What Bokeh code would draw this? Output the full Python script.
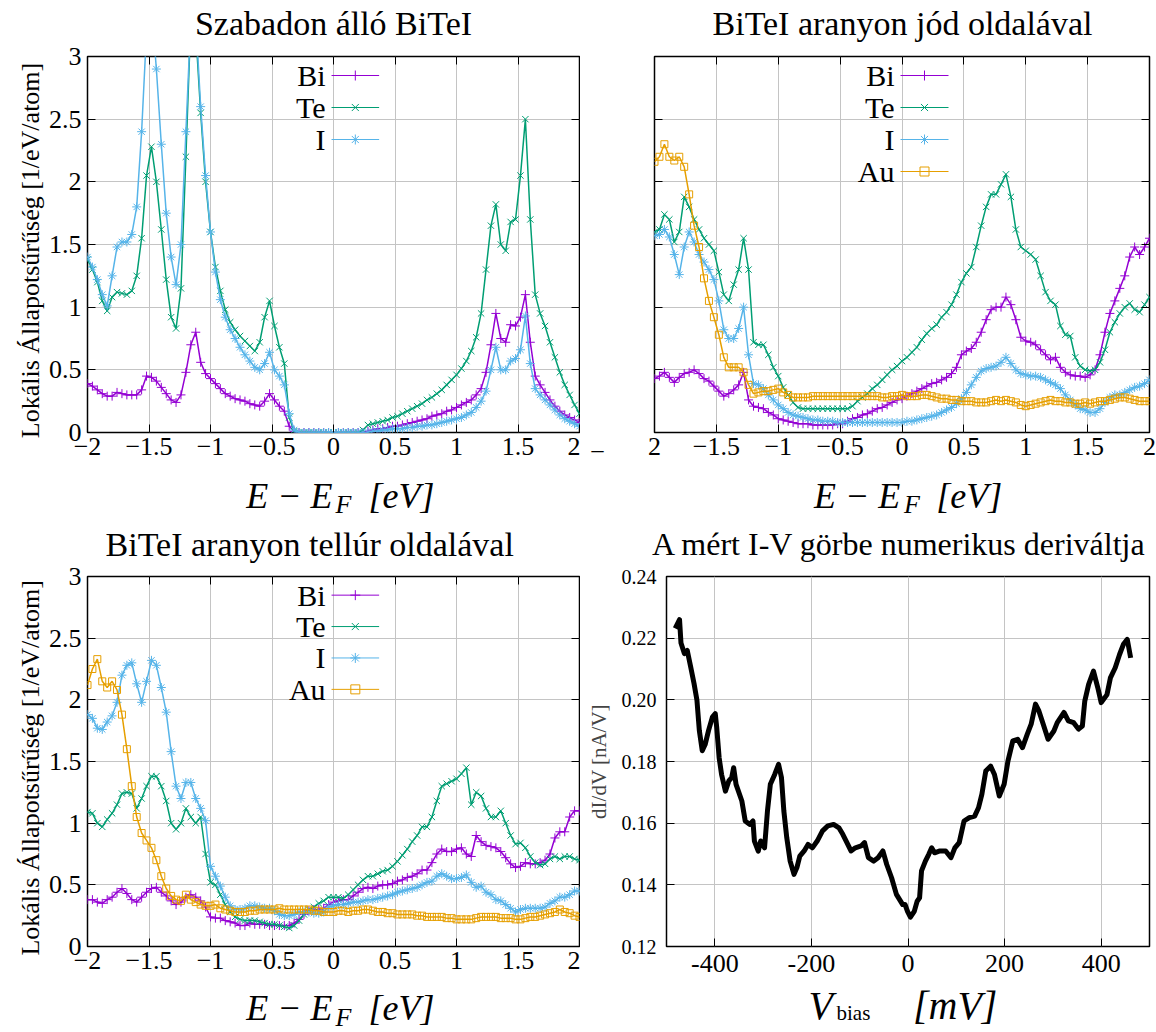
import numpy as np
from math import pi
from bokeh.plotting import figure
from bokeh.models import Range1d, FixedTicker, Label, LinearAxis
from bokeh.layouts import column, row
from bokeh.embed import file_html
from bokeh.resources import INLINE

FONT = "Liberation Serif"
NB = "\u00a0"

# ---------------- data ----------------
E = np.round(np.linspace(-2.0, 2.0, 101), 2)

# Panel 1: Szabadon allo BiTeI
P1_BI = [0.39,0.37,0.34,0.31,0.29,0.29,0.32,0.31,0.30,0.30,
         0.30,0.34,0.45,0.44,0.41,0.36,0.31,0.26,0.24,0.30,
         0.48,0.70,0.80,0.56,0.47,0.43,0.39,0.35,0.31,0.29,
         0.27,0.26,0.25,0.23,0.22,0.21,0.25,0.31,0.26,0.21,
         0.17,0.05,0.01,0.00,0.00,0.00,0.00,0.00,0.00,0.00,
         0.00,0.00,0.00,0.00,0.00,0.00,0.00,0.01,0.02,0.03,
         0.03,0.04,0.05,0.05,0.06,0.07,0.08,0.09,0.10,0.11,
         0.13,0.14,0.15,0.17,0.18,0.20,0.22,0.24,0.26,0.30,
         0.35,0.48,0.70,0.95,0.75,0.72,0.86,0.85,0.92,1.10,
         0.72,0.45,0.38,0.32,0.26,0.21,0.17,0.14,0.12,0.10,
         0.08]
P1_TE = [1.38,1.30,1.20,1.05,0.97,1.08,1.12,1.11,1.10,1.13,
         1.25,1.55,2.05,2.28,2.00,1.62,1.22,0.92,0.83,1.15,
         2.20,3.30,3.20,2.55,2.00,1.60,1.32,1.13,0.98,0.88,
         0.82,0.77,0.73,0.69,0.65,0.72,0.92,1.05,0.85,0.68,
         0.55,0.12,0.01,0.00,0.00,0.00,0.00,0.00,0.00,0.00,
         0.00,0.00,0.00,0.00,0.00,0.00,0.02,0.06,0.07,0.08,
         0.09,0.10,0.12,0.13,0.15,0.17,0.19,0.21,0.23,0.26,
         0.28,0.31,0.34,0.38,0.42,0.46,0.51,0.57,0.65,0.76,
         0.95,1.30,1.65,1.82,1.50,1.45,1.68,1.70,2.05,2.50,
         1.70,1.10,0.95,0.85,0.72,0.60,0.48,0.38,0.30,0.22,
         0.15]
P1_I = [1.40,1.32,1.22,1.10,1.01,1.25,1.48,1.52,1.52,1.58,
        1.80,2.40,3.20,3.40,2.90,2.30,1.75,1.40,1.18,1.50,
        2.40,3.30,3.30,2.60,2.05,1.60,1.28,1.06,0.92,0.82,
        0.75,0.68,0.62,0.57,0.52,0.50,0.55,0.64,0.50,0.45,
        0.38,0.15,0.02,0.00,0.00,0.00,0.00,0.00,0.00,0.00,
        0.00,0.00,0.00,0.00,0.00,0.00,0.00,0.00,0.01,0.01,
        0.02,0.02,0.03,0.03,0.03,0.04,0.04,0.05,0.05,0.06,
        0.06,0.07,0.08,0.09,0.10,0.11,0.12,0.14,0.16,0.20,
        0.25,0.33,0.50,0.68,0.50,0.50,0.57,0.59,0.66,0.93,
        0.55,0.35,0.30,0.26,0.22,0.18,0.14,0.11,0.09,0.07,
        0.05]

# Panel 2: BiTeI aranyon jod oldalaval
P2_BI = [0.43,0.45,0.48,0.44,0.40,0.44,0.47,0.48,0.50,0.47,
         0.43,0.41,0.37,0.33,0.29,0.31,0.34,0.38,0.48,0.26,
         0.21,0.20,0.19,0.16,0.14,0.11,0.10,0.09,0.08,0.07,
         0.07,0.07,0.06,0.06,0.06,0.06,0.06,0.07,0.07,0.09,
         0.11,0.12,0.14,0.15,0.17,0.19,0.20,0.22,0.24,0.26,
         0.27,0.29,0.31,0.33,0.35,0.37,0.39,0.40,0.42,0.44,
         0.47,0.52,0.62,0.65,0.67,0.72,0.80,0.90,0.98,1.00,
         1.00,1.08,1.02,0.90,0.76,0.73,0.72,0.70,0.66,0.62,
         0.58,0.60,0.52,0.48,0.46,0.45,0.45,0.44,0.46,0.50,
         0.62,0.80,0.95,1.05,1.15,1.25,1.40,1.48,1.42,1.48,
         1.55]
P2_TE = [1.60,1.62,1.74,1.70,1.52,1.60,1.88,1.80,1.70,1.62,
         1.55,1.50,1.45,1.28,1.10,1.05,1.18,1.30,1.55,1.30,
         0.72,0.70,0.70,0.62,0.52,0.45,0.36,0.30,0.24,0.20,
         0.19,0.19,0.19,0.19,0.19,0.19,0.19,0.19,0.19,0.19,
         0.21,0.25,0.28,0.31,0.35,0.38,0.42,0.46,0.50,0.53,
         0.57,0.60,0.64,0.68,0.74,0.79,0.83,0.86,0.92,0.96,
         1.02,1.10,1.20,1.27,1.32,1.48,1.65,1.80,1.90,1.90,
         1.98,2.06,1.88,1.62,1.48,1.45,1.42,1.38,1.25,1.12,
         1.05,1.02,0.85,0.78,0.77,0.60,0.53,0.50,0.49,0.50,
         0.56,0.66,0.80,0.88,0.95,1.00,1.03,0.98,0.96,1.02,
         1.08]
P2_I = [1.57,1.58,1.62,1.56,1.42,1.26,1.48,1.60,1.52,1.42,
        1.36,1.30,1.22,1.05,0.82,0.75,0.75,0.83,1.00,0.62,
        0.39,0.38,0.35,0.30,0.26,0.22,0.19,0.16,0.14,0.13,
        0.12,0.11,0.10,0.10,0.09,0.09,0.09,0.08,0.08,0.08,
        0.08,0.08,0.08,0.08,0.08,0.08,0.08,0.08,0.08,0.08,
        0.08,0.09,0.09,0.10,0.11,0.12,0.13,0.14,0.16,0.18,
        0.20,0.23,0.27,0.32,0.38,0.44,0.49,0.51,0.52,0.53,
        0.56,0.60,0.55,0.50,0.47,0.46,0.45,0.45,0.44,0.42,
        0.40,0.38,0.35,0.30,0.26,0.22,0.19,0.18,0.16,0.16,
        0.19,0.24,0.28,0.30,0.30,0.32,0.34,0.36,0.37,0.39,
        0.42]
P2_AU = [2.16,2.20,2.30,2.20,2.17,2.20,2.12,1.90,1.65,1.48,
         1.23,1.05,0.92,0.78,0.60,0.52,0.52,0.52,0.48,0.38,
         0.31,0.32,0.33,0.33,0.34,0.35,0.32,0.30,0.28,0.28,
         0.28,0.28,0.29,0.29,0.29,0.29,0.29,0.29,0.29,0.29,
         0.29,0.29,0.29,0.29,0.29,0.29,0.28,0.28,0.29,0.29,
         0.30,0.29,0.29,0.29,0.30,0.30,0.29,0.28,0.27,0.27,
         0.26,0.26,0.25,0.25,0.25,0.24,0.24,0.24,0.25,0.26,
         0.25,0.26,0.25,0.24,0.22,0.21,0.22,0.23,0.24,0.25,
         0.26,0.25,0.25,0.24,0.24,0.23,0.23,0.24,0.23,0.24,
         0.25,0.25,0.26,0.27,0.28,0.28,0.27,0.26,0.25,0.25,
         0.25]

# Panel 3: BiTeI aranyon tellur oldalaval
P3_BI = [0.38,0.38,0.36,0.35,0.38,0.40,0.44,0.47,0.43,0.38,
         0.36,0.40,0.44,0.47,0.48,0.44,0.41,0.37,0.34,0.36,
         0.40,0.42,0.40,0.37,0.32,0.24,0.23,0.23,0.21,0.20,
         0.19,0.17,0.17,0.19,0.18,0.18,0.18,0.17,0.17,0.17,
         0.17,0.17,0.19,0.22,0.26,0.29,0.30,0.30,0.31,0.34,
         0.36,0.37,0.38,0.38,0.41,0.44,0.47,0.48,0.47,0.49,
         0.50,0.50,0.51,0.53,0.54,0.56,0.57,0.59,0.62,0.62,
         0.68,0.75,0.79,0.77,0.77,0.79,0.80,0.75,0.73,0.90,
         0.85,0.82,0.81,0.80,0.77,0.72,0.67,0.64,0.65,0.68,
         0.67,0.67,0.68,0.70,0.75,0.88,0.93,0.93,1.05,1.10,
         1.10]
P3_TE = [1.09,1.08,1.00,0.97,1.03,1.08,1.15,1.24,1.25,1.24,
         1.12,1.20,1.30,1.38,1.38,1.30,1.18,1.00,0.95,1.00,
         1.12,1.05,1.00,1.05,0.75,0.52,0.50,0.42,0.34,0.28,
         0.24,0.22,0.21,0.21,0.21,0.20,0.19,0.18,0.18,0.17,
         0.16,0.15,0.17,0.21,0.26,0.30,0.32,0.35,0.37,0.40,
         0.40,0.40,0.39,0.42,0.46,0.50,0.54,0.57,0.57,0.59,
         0.61,0.62,0.65,0.69,0.74,0.79,0.85,0.90,0.97,0.97,
         1.05,1.18,1.30,1.32,1.34,1.36,1.40,1.45,1.15,1.25,
         1.22,1.12,1.05,1.05,1.10,1.00,0.90,0.83,0.84,0.80,
         0.73,0.68,0.66,0.67,0.71,0.73,0.71,0.73,0.73,0.71,
         0.70]
P3_I = [1.88,1.85,1.77,1.76,1.82,1.87,1.98,2.20,2.28,2.30,
        2.13,1.98,2.15,2.32,2.28,2.10,1.90,1.58,1.30,1.20,
        1.33,1.33,1.20,1.12,1.02,0.65,0.57,0.49,0.40,0.33,
        0.30,0.30,0.31,0.33,0.33,0.32,0.31,0.31,0.29,0.26,
        0.25,0.25,0.26,0.28,0.28,0.28,0.27,0.27,0.28,0.32,
        0.33,0.34,0.34,0.35,0.36,0.36,0.37,0.38,0.38,0.39,
        0.40,0.41,0.42,0.44,0.45,0.46,0.47,0.48,0.50,0.52,
        0.53,0.57,0.59,0.57,0.55,0.55,0.56,0.58,0.52,0.48,
        0.49,0.44,0.42,0.38,0.37,0.34,0.31,0.28,0.30,0.31,
        0.31,0.31,0.31,0.32,0.35,0.37,0.40,0.40,0.42,0.45,
        0.45]
P3_AU = [2.12,2.25,2.33,2.15,2.10,2.15,2.08,1.88,1.60,1.30,
         1.05,0.92,0.86,0.80,0.70,0.57,0.47,0.41,0.38,0.37,
         0.42,0.38,0.36,0.34,0.33,0.33,0.34,0.31,0.30,0.29,
         0.28,0.28,0.28,0.29,0.29,0.30,0.30,0.30,0.30,0.31,
         0.30,0.30,0.30,0.30,0.30,0.30,0.29,0.29,0.28,0.28,
         0.28,0.29,0.29,0.28,0.29,0.29,0.30,0.30,0.29,0.28,
         0.28,0.27,0.27,0.26,0.26,0.26,0.26,0.25,0.25,0.24,
         0.24,0.24,0.24,0.23,0.23,0.22,0.22,0.22,0.22,0.23,
         0.24,0.24,0.24,0.24,0.23,0.23,0.23,0.22,0.22,0.23,
         0.24,0.24,0.25,0.26,0.27,0.28,0.30,0.28,0.27,0.25,
         0.24]

# Panel 4: measured dI/dV
V_MV = [-482,-473,-470,-463,-457,-450,-443,-437,-432,-426,-420,-413,-405,-399,-396,
        -391,-386,-378,-371,-365,-361,-356,-344,-337,-328,-321,-318,-310,-305,-297,
        -291,-285,-276,-268,-262,-257,-251,-244,-236,-230,-224,-215,-207,-198,-188,
        -177,-166,-154,-143,-135,-128,-118,-109,-97,-90,-82,-71,-62,-52,-44,
        -34,-24,-11,-6,-1,5,13,19,24,28,36,43,49,55,66,
        78,89,97,106,116,127,138,146,153,161,171,179,189,199,207,
        217,227,237,247,255,264,271,280,290,302,309,323,332,343,353,
        361,366,374,384,393,400,412,419,429,438,446,454,461]
DIDV = [0.2232,0.2260,0.2184,0.2150,0.2160,0.2107,0.2053,0.1999,0.1900,0.1835,0.1855,0.1900,0.1944,0.1955,0.1910,
        0.1812,0.1758,0.1704,0.1737,0.1748,0.1780,0.1726,0.1672,0.1607,0.1596,0.1607,0.1542,0.1509,0.1542,0.1520,
        0.1639,0.1726,0.1758,0.1791,0.1748,0.1639,0.1553,0.1477,0.1434,0.1456,0.1493,0.1510,0.1531,0.1520,0.1542,
        0.1575,0.1591,0.1596,0.1585,0.1564,0.1542,0.1510,0.1520,0.1526,0.1537,0.1488,0.1477,0.1488,0.1510,0.1466,
        0.1423,0.1369,0.1336,0.1336,0.1314,0.1295,0.1314,0.1347,0.1358,0.1445,0.1477,0.1499,0.1520,0.1504,0.1510,
        0.1510,0.1488,0.1520,0.1537,0.1607,0.1618,0.1623,0.1650,0.1694,0.1769,0.1785,0.1758,0.1688,0.1726,0.1802,
        0.1867,0.1872,0.1845,0.1889,0.1921,0.1986,0.1964,0.1921,0.1872,0.1899,0.1926,0.1959,0.1932,0.1926,0.1905,
        0.1915,0.1996,0.2050,0.2093,0.2039,0.1991,0.2017,0.2071,0.2104,0.2147,0.2180,0.2196,0.2136]

COLORS = {"Bi": "#9400d3", "Te": "#009e73", "I": "#56b4e9", "Au": "#e69f00"}
MARKERS = {"Bi": "cross", "Te": "x", "I": "asterisk", "Au": "square"}

E_TICKS = [-2, -1.5, -1, -0.5, 0, 0.5, 1, 1.5, 2]
E_TICK_LABELS = ["\u22122", "\u22121.5", "\u22121", "\u22120.5", "0", "0.5", "1", "1.5", "2"]
DOS_TICKS = [0, 0.5, 1, 1.5, 2, 2.5, 3]
DOS_TICK_LABELS = ["0", "0.5", "1", "1.5", "2", "2.5", "3"]
V_TICKS = [-400, -200, 0, 200, 400]
V_TICK_LABELS = ["-400", "-200", "0", "200", "400"]
G_TICKS = [0.12, 0.14, 0.16, 0.18, 0.20, 0.22, 0.24]
G_TICK_LABELS = ["0.12", "0.14", "0.16", "0.18", "0.20", "0.22", "0.24"]

TITLES = ["Szabadon álló BiTeI", "BiTeI aranyon jód oldalával",
          "BiTeI aranyon tellúr oldalával", "A mért I-V görbe numerikus deriváltja"]
DOS_YLABEL = "Lokális Állapotsűrűség [1/eV/atom]"
DIDV_YLABEL = "dI/dV [nA/V]"


# ---------------- helpers ----------------
class Frame:
    def __init__(self, x0, x1, y0, y1, fw, fh):
        self.x0, self.x1, self.y0, self.y1, self.fw, self.fh = x0, x1, y0, y1, fw, fh

    def at(self, dx, dy):
        # dx: px right of frame left edge, dy: px above frame bottom edge
        return (self.x0 + dx * (self.x1 - self.x0) / self.fw,
                self.y0 + dy * (self.y1 - self.y0) / self.fh)


def style_axis(ax, ticks, labels, size, standoff):
    ax.ticker = FixedTicker(ticks=ticks)
    ax.major_label_overrides = dict(zip(ticks, labels))
    ax.major_label_text_font = FONT
    ax.major_label_text_font_size = size
    ax.major_label_text_color = "black"
    ax.major_label_standoff = standoff
    ax.axis_line_color = None
    ax.major_tick_in = 8
    ax.major_tick_out = 0
    ax.major_tick_line_color = "black"
    ax.minor_tick_line_color = None


def mirror_axis(p, loc, ticks):
    ax = LinearAxis(ticker=FixedTicker(ticks=ticks))
    ax.major_label_overrides = {t: "" for t in ticks}
    ax.major_label_text_font_size = "0px"
    ax.major_label_standoff = 0
    ax.axis_line_color = None
    ax.major_tick_in = 8
    ax.major_tick_out = 0
    ax.major_tick_line_color = "black"
    ax.minor_tick_line_color = None
    p.add_layout(ax, loc)


def make_fig(width, height, bl, br, bt, bb, fr, xticks, xlabels, yticks, ylabels,
             xsize="26px", ysize="26px", xstand=5, ystand=6, mirror_top=True):
    p = figure(width=width, height=height,
               x_range=Range1d(fr.x0, fr.x1), y_range=Range1d(fr.y0, fr.y1),
               output_backend="svg", toolbar_location=None,
               min_border_left=bl, min_border_right=br,
               min_border_top=bt, min_border_bottom=bb)
    p.background_fill_color = "white"
    p.border_fill_color = "white"
    p.outline_line_color = "black"
    p.outline_line_width = 1.5
    p.outline_line_alpha = 1.0
    style_axis(p.xaxis[0], xticks, xlabels, xsize, xstand)
    style_axis(p.yaxis[0], yticks, ylabels, ysize, ystand)
    p.xgrid.ticker = p.xaxis[0].ticker
    p.ygrid.ticker = p.yaxis[0].ticker
    for g in (p.xgrid, p.ygrid):
        g.grid_line_color = "#c4c4c4"
        g.grid_line_width = 1
    if mirror_top:
        mirror_axis(p, "above", xticks)
    mirror_axis(p, "right", yticks)
    return p


def add_text(p, fr, dx, dy, text, size, place, style="normal", align="left", angle=0.0):
    # texts sit in the side panels (not clipped by the frame); (dx, dy) = centre line of the text
    x, y = fr.at(dx, dy)
    p.add_layout(Label(x=x, y=y, text=text, text_font=FONT, text_font_size=size,
                       text_font_style=style, text_align=align,
                       text_baseline="middle", text_color="black", angle=angle), place)


def draw_species(p, name, x, y):
    c = COLORS[name]
    p.line(x, y, line_color=c, line_width=1.5)
    if MARKERS[name] == "square":
        p.scatter(x, y, marker="square", size=7, line_color=c, fill_color=None, line_width=1)
    else:
        p.scatter(x, y, marker=MARKERS[name], size=9, line_color=c, line_width=1)


def draw_legend(p, fr, names):
    for i, n in enumerate(names):
        dy = fr.fh - (19 + 32 * i)
        tx, ty = fr.at(240, dy)
        p.add_layout(Label(x=tx, y=ty, text=n, text_font=FONT, text_font_size="30px",
                           text_align="right", text_baseline="middle", text_color="black"))
        x0, yy = fr.at(246, dy)
        x1, _ = fr.at(294, dy)
        xm, _ = fr.at(270, dy)
        c = COLORS[n]
        p.line([x0, x1], [yy, yy], line_color=c, line_width=1)
        if MARKERS[n] == "square":
            p.scatter([xm], [yy], marker="square", size=9, line_color=c, fill_color=None)
        else:
            p.scatter([xm], [yy], marker=MARKERS[n], size=10, line_color=c, line_width=1)


def e_label(p, fr, cx):
    add_text(p, fr, cx - 88, -63, "E \u2212 E" + NB * 4 + "[eV]", "36px", "below", style="italic")
    add_text(p, fr, cx + 2, -72, "F", "26px", "left", style="italic")


def dos_panel(width, height, bl, br, bt, bb, fw, fh, series, title, title_dx, show_y):
    fr = Frame(-2, 2, 0, 3, fw, fh)
    ylabels = DOS_TICK_LABELS if show_y else [""] * len(DOS_TICKS)
    xlabels = list(E_TICK_LABELS)
    if not show_y:
        xlabels[0] = "2"
    p = make_fig(width, height, bl, br, bt, bb, fr, E_TICKS, xlabels, DOS_TICKS, ylabels)
    if not show_y:
        p.yaxis[0].major_label_text_font_size = "0px"
    names = []
    for name, vals in series:
        draw_species(p, name, E, vals)
        names.append(name)
    draw_legend(p, fr, names)
    add_text(p, fr, title_dx, fh + 33, title, "34px", "above", align="center")
    e_label(p, fr, fw / 2)
    if show_y:
        add_text(p, fr, -57, 182, DOS_YLABEL, "26px", "left", align="center", angle=pi / 2)
    return p, fr


# ---------------- panels ----------------
p1, fr1 = dos_panel(580, 516, 83, 1, 56, 84, 496, 376,
                    [("Bi", P1_BI), ("Te", P1_TE), ("I", P1_I)],
                    TITLES[0], 248, True)

p2, fr2 = dos_panel(576, 516, 74, 7, 56, 84, 495, 376,
                    [("Bi", P2_BI), ("Te", P2_TE), ("I", P2_I), ("Au", P2_AU)],
                    TITLES[1], 248, False)
add_text(p2, fr2, -57, -16, "\u2013", "24px", "left", align="center")

p3, fr3 = dos_panel(580, 516, 83, 1, 56, 83, 496, 377,
                    [("Bi", P3_BI), ("Te", P3_TE), ("I", P3_I), ("Au", P3_AU)],
                    TITLES[2], 224, True)

fr4 = Frame(-500, 500, 0.12, 0.24, 483, 371)
p4 = make_fig(576, 516, 86, 7, 59, 86, fr4, V_TICKS, V_TICK_LABELS, G_TICKS, G_TICK_LABELS,
              xsize="26px", ysize="20px", xstand=8, ystand=10, mirror_top=False)
p4.line(V_MV, DIDV, line_color="black", line_width=5, line_join="round")
p4.yaxis[0].axis_label = DIDV_YLABEL
p4.yaxis[0].axis_label_text_font = FONT
p4.yaxis[0].axis_label_text_font_size = "21px"
p4.yaxis[0].axis_label_text_font_style = "normal"
p4.yaxis[0].axis_label_standoff = 8
add_text(p4, fr4, 233, fr4.fh + 33, TITLES[3], "32px", "above", align="center")
add_text(p4, fr4, 142, -59, "V" + NB * 8 + "[mV]", "40px", "below", style="italic")
add_text(p4, fr4, 170, -67, "bias", "21px", "above")

layout = column(row(p1, p2), row(p3, p4))
open("out.html", "w").write(file_html(layout, INLINE, title="BiTeI LDOS"))
